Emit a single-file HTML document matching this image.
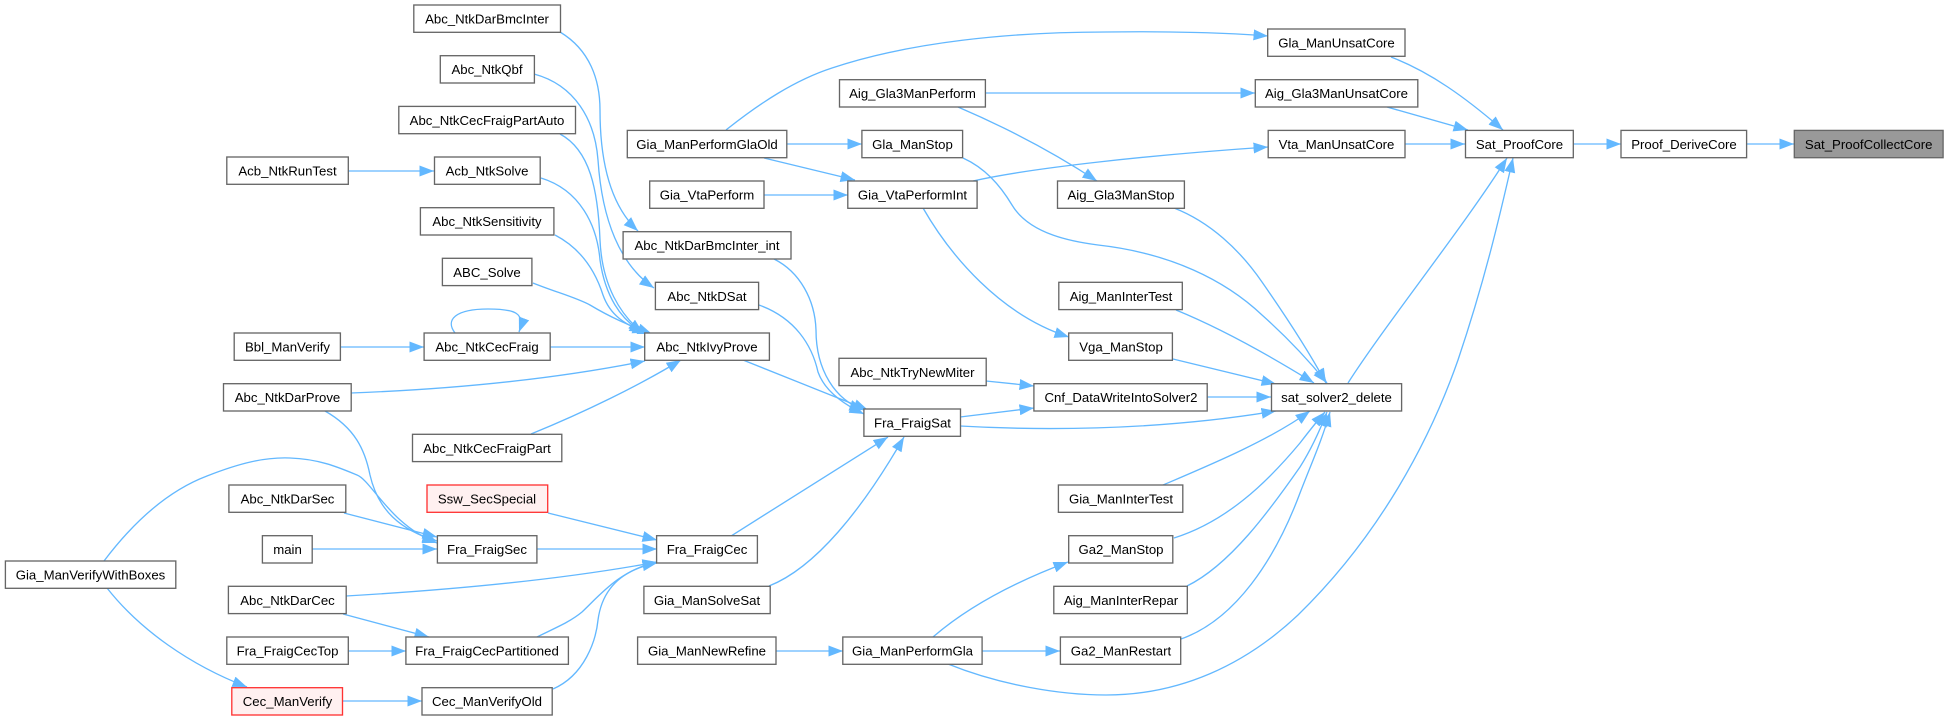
<!DOCTYPE html>
<html><head><meta charset="utf-8"><style>
html,body{margin:0;padding:0;background:#fff;width:1948px;height:720px;overflow:hidden}
svg{display:block}
text{font-family:"Liberation Sans",Arial,sans-serif;font-size:13.2px;fill:#000;text-anchor:middle}
rect{fill:#fff;stroke:#666;stroke-width:1.33}
rect.r{fill:#fff0f0;stroke:#f33}
rect.g{fill:#999}
path.e{fill:none;stroke:#63b8ff;stroke-width:1.33;marker-end:url(#a)}
</style></head><body>
<svg width="1948" height="720" viewBox="0 0 1948 720" xmlns="http://www.w3.org/2000/svg">
<defs><marker id="a" markerUnits="userSpaceOnUse" markerWidth="16" markerHeight="12" refX="14.5" refY="5.5" orient="auto"><path d="M0,0 L14.5,5.5 L0,11 z" fill="#63b8ff"/></marker></defs>
<g>
<path class="e" d="M1391,57 C1430,72 1465,97 1503,130"/>
<path class="e" d="M1387,107 L1468,130"/>
<path class="e" d="M1405,144 L1465,144"/>
<path class="e" d="M1348,383 C1385,325 1465,225 1507,158"/>
<path class="e" d="M948,664 C1000,685 1060,695 1106,695 C1180,695 1245,665 1298,615 C1380,535 1430,440 1458,360 C1485,280 1500,215 1513,158"/>
<path class="e" d="M1573,144 L1621,144"/>
<path class="e" d="M1747,144 L1794,144"/>
<path class="e" d="M726,130 C760,103 795,80 832,68 C910,42 1010,32 1106,32 C1170,31 1230,33 1268,36"/>
<path class="e" d="M985,93 L1255,93"/>
<path class="e" d="M958,107 C1000,125 1050,150 1097,181"/>
<path class="e" d="M787,144 L862,144"/>
<path class="e" d="M764,158 L855,180"/>
<path class="e" d="M764,195 L848,195"/>
<path class="e" d="M973,181 C1030,168 1150,155 1268,147"/>
<path class="e" d="M963,158 C985,168 1000,185 1012,205 C1030,235 1075,242 1098,245 C1170,253 1225,280 1262,315 C1290,340 1310,362 1327,383"/>
<path class="e" d="M1174,208 C1210,222 1240,250 1262,282 C1285,315 1308,350 1326,383"/>
<path class="e" d="M1176,310 C1225,330 1280,362 1314,383"/>
<path class="e" d="M1173,359 L1276,384"/>
<path class="e" d="M1207,397 L1271,397"/>
<path class="e" d="M960,426 C1030,430 1150,432 1276,411"/>
<path class="e" d="M1163,485 C1210,465 1270,440 1310,411"/>
<path class="e" d="M1174,538 C1225,522 1265,485 1300,443 C1310,430 1318,420 1325,412"/>
<path class="e" d="M1187,586 C1230,565 1270,510 1300,467 C1312,448 1320,430 1327,412"/>
<path class="e" d="M1181,639 C1235,620 1275,560 1300,493 C1312,462 1322,440 1330,412"/>
<path class="e" d="M933,637 C970,605 1020,580 1068,562"/>
<path class="e" d="M982,651 L1060,651"/>
<path class="e" d="M776,651 L843,651"/>
<path class="e" d="M986,381 L1034,386"/>
<path class="e" d="M960,417 L1034,408"/>
<path class="e" d="M731,536 L888,437"/>
<path class="e" d="M769,586 C815,568 862,510 904,437"/>
<path class="e" d="M743,360 L868,410"/>
<path class="e" d="M774,259 C800,272 815,300 816,330 C816,370 835,400 864,410"/>
<path class="e" d="M759,305 C795,318 812,345 818,372 C825,392 845,405 864,414"/>
<path class="e" d="M560,32 C590,50 600,80 600,110 C600,160 610,205 638,231"/>
<path class="e" d="M534,74 C575,85 595,120 598,160 C602,220 620,265 654,288"/>
<path class="e" d="M560,134 C590,150 598,190 600,240 C602,285 620,315 643,333"/>
<path class="e" d="M541,178 C580,190 597,225 600,260 C605,295 620,320 644,333"/>
<path class="e" d="M555,235 C580,248 595,270 603,295 C610,315 625,325 647,333"/>
<path class="e" d="M533,283 C555,292 575,297 590,305 C610,317 628,325 652,334"/>
<path class="e" d="M550,347 L645,347"/>
<path class="e" d="M455,333 C445,320 455,309 488,309 C515,309 526,313 519,332"/>
<path class="e" d="M340,347 L424,347"/>
<path class="e" d="M348,171 L434,171"/>
<path class="e" d="M351,393 C430,390 540,382 645,361"/>
<path class="e" d="M531,434 C585,412 640,385 681,360"/>
<path class="e" d="M325,411 C355,428 365,450 370,475 C378,510 400,530 437,541"/>
<path class="e" d="M104,561 C135,520 170,490 207,476 C240,463 265,457 290,458 C320,459 340,468 357,475 C372,481 390,525 437,543"/>
<path class="e" d="M344,513 L437,537"/>
<path class="e" d="M312,549 L437,549"/>
<path class="e" d="M537,549 L657,549"/>
<path class="e" d="M548,513 L657,540"/>
<path class="e" d="M346,596 C450,590 560,580 657,562"/>
<path class="e" d="M343,614 L429,637"/>
<path class="e" d="M348,651 L406,651"/>
<path class="e" d="M537,637 C555,628 570,622 582,612 C600,595 620,570 657,562"/>
<path class="e" d="M553,689 C585,675 596,640 598,620 C602,590 620,570 657,563"/>
<path class="e" d="M342,701 L422,701"/>
<path class="e" d="M107,588 C140,630 190,665 247,687"/>
<path class="e" d="M923,208 C950,255 1000,315 1069,337"/>
</g>
<g>
<rect x="413.8" y="5" width="146.7" height="27.3"/><text x="487" y="23.5">Abc_NtkDarBmcInter</text>
<rect x="440.3" y="55.7" width="94.1" height="27.3"/><text x="487" y="74">Abc_NtkQbf</text>
<rect x="398.8" y="106.4" width="176.7" height="27.3"/><text x="487" y="125">Abc_NtkCecFraigPartAuto</text>
<rect x="226.8" y="157" width="121.5" height="27.3"/><text x="287.5" y="175.5">Acb_NtkRunTest</text>
<rect x="434.5" y="157" width="105.7" height="27.3"/><text x="487" y="175.5">Acb_NtkSolve</text>
<rect x="420.4" y="207.7" width="133.5" height="27.3"/><text x="487" y="226">Abc_NtkSensitivity</text>
<rect x="442.4" y="258.3" width="89.5" height="27.3"/><text x="487" y="277">ABC_Solve</text>
<rect x="234.2" y="333" width="106.2" height="27.3"/><text x="287.5" y="351.5">Bbl_ManVerify</text>
<rect x="424.1" y="333" width="126.1" height="27.3"/><text x="487" y="351.5">Abc_NtkCecFraig</text>
<rect x="223.5" y="383.7" width="127.7" height="27.3"/><text x="287.5" y="402">Abc_NtkDarProve</text>
<rect x="412.5" y="434.3" width="149.3" height="27.3"/><text x="487" y="453">Abc_NtkCecFraigPart</text>
<rect x="228.9" y="485" width="116.9" height="27.3"/><text x="287.5" y="503.5">Abc_NtkDarSec</text>
<rect class="r" x="427" y="485" width="120.7" height="27.3"/><text x="487" y="503.5">Ssw_SecSpecial</text>
<rect x="262.4" y="535.7" width="49.8" height="27.3"/><text x="287.5" y="554">main</text>
<rect x="437.4" y="535.7" width="99.5" height="27.3"/><text x="487" y="554">Fra_FraigSec</text>
<rect x="5.4" y="561" width="170.4" height="27.3"/><text x="90.5" y="579.5">Gia_ManVerifyWithBoxes</text>
<rect x="228.4" y="586.3" width="117.8" height="27.3"/><text x="287.5" y="605">Abc_NtkDarCec</text>
<rect x="226.8" y="637" width="121.5" height="27.3"/><text x="287.5" y="655.5">Fra_FraigCecTop</text>
<rect x="405.9" y="637" width="162.5" height="27.3"/><text x="487" y="655.5">Fra_FraigCecPartitioned</text>
<rect class="r" x="231.8" y="687.7" width="110.7" height="27.3"/><text x="287.5" y="706">Cec_ManVerify</text>
<rect x="422" y="687.7" width="130.2" height="27.3"/><text x="487" y="706">Cec_ManVerifyOld</text>
<rect x="627.3" y="130.4" width="159.5" height="27.3"/><text x="707" y="149">Gia_ManPerformGlaOld</text>
<rect x="839.5" y="79.7" width="145.9" height="27.3"/><text x="912.5" y="98">Aig_Gla3ManPerform</text>
<rect x="861.9" y="130.4" width="100.7" height="27.3"/><text x="912.5" y="149">Gla_ManStop</text>
<rect x="649.7" y="181" width="114.3" height="27.3"/><text x="707" y="199.5">Gia_VtaPerform</text>
<rect x="847.8" y="181" width="129.3" height="27.3"/><text x="912.5" y="199.5">Gia_VtaPerformInt</text>
<rect x="623.1" y="231.7" width="167.9" height="27.3"/><text x="707" y="250">Abc_NtkDarBmcInter_int</text>
<rect x="655.4" y="282.3" width="103.2" height="27.3"/><text x="707" y="301">Abc_NtkDSat</text>
<rect x="644.7" y="333" width="124.7" height="27.3"/><text x="707" y="351.5">Abc_NtkIvyProve</text>
<rect x="1267.7" y="29" width="137.3" height="27.3"/><text x="1336.5" y="47.5">Gla_ManUnsatCore</text>
<rect x="1255.3" y="79.7" width="162.5" height="27.3"/><text x="1336.5" y="98">Aig_Gla3ManUnsatCore</text>
<rect x="1268.2" y="130.4" width="136.8" height="27.3"/><text x="1336.5" y="149">Vta_ManUnsatCore</text>
<rect x="1057.5" y="181" width="126.9" height="27.3"/><text x="1121" y="199.5">Aig_Gla3ManStop</text>
<rect x="1058.8" y="282.3" width="123.5" height="27.3"/><text x="1121" y="301">Aig_ManInterTest</text>
<rect x="1068.7" y="333" width="103.7" height="27.3"/><text x="1121" y="351.5">Vga_ManStop</text>
<rect x="839" y="358.3" width="147.2" height="27.3"/><text x="912.5" y="377">Abc_NtkTryNewMiter</text>
<rect x="1033.9" y="383.7" width="173.3" height="27.3"/><text x="1121" y="402">Cnf_DataWriteIntoSolver2</text>
<rect x="1271.5" y="383.7" width="130.1" height="27.3"/><text x="1336.5" y="402">sat_solver2_delete</text>
<rect x="863.9" y="409" width="96.6" height="27.3"/><text x="912.5" y="427.5">Fra_FraigSat</text>
<rect x="1058.4" y="485" width="124.4" height="27.3"/><text x="1121" y="503.5">Gia_ManInterTest</text>
<rect x="656.6" y="535.7" width="100.8" height="27.3"/><text x="707" y="554">Fra_FraigCec</text>
<rect x="1068.7" y="535.7" width="104.1" height="27.3"/><text x="1121" y="554">Ga2_ManStop</text>
<rect x="643.9" y="586.3" width="126.3" height="27.3"/><text x="707" y="605">Gia_ManSolveSat</text>
<rect x="1053.8" y="586.3" width="133.5" height="27.3"/><text x="1121" y="605">Aig_ManInterRepar</text>
<rect x="637.6" y="637" width="138.4" height="27.3"/><text x="707" y="655.5">Gia_ManNewRefine</text>
<rect x="842.8" y="637" width="139.3" height="27.3"/><text x="912.5" y="655.5">Gia_ManPerformGla</text>
<rect x="1060.4" y="637" width="120.3" height="27.3"/><text x="1121" y="655.5">Ga2_ManRestart</text>
<rect x="1465.5" y="130.4" width="107.8" height="27.3"/><text x="1519.5" y="149">Sat_ProofCore</text>
<rect x="1621" y="130.4" width="125.6" height="27.3"/><text x="1684" y="149">Proof_DeriveCore</text>
<rect class="g" x="1794.3" y="130.4" width="148.8" height="27.3"/><text x="1868.7" y="149">Sat_ProofCollectCore</text>
</g>
</svg>
</body></html>
